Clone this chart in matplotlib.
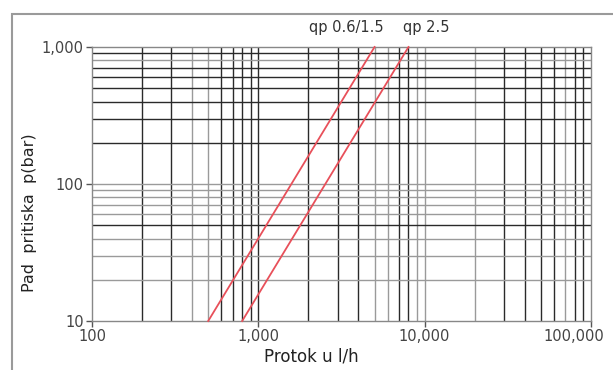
import matplotlib
matplotlib.use("Agg")
import matplotlib.pyplot as plt
from matplotlib.patches import Rectangle
from matplotlib.ticker import FixedLocator, FuncFormatter, NullLocator
from matplotlib.transforms import ScaledTranslation

# flow (l/h) and pressure drop (bar) at the ends of each meter curve
series_names = ["qp 0.6/1.5", "qp 2.5"]
flow_small = [500, 5000]
flow_large = [800, 8000]
dp_values = [10, 1000]

x_ticks = [100, 1000, 10000, 100000]
y_ticks = [10, 100, 1000]

DARK = "#2a2a2a"
LIGHT = "#9a9a9a"
# gridline shade for multipliers 1..9 inside each decade
x_shades = {
    100: [LIGHT, DARK, DARK, LIGHT, LIGHT, DARK, DARK, DARK, DARK],
    1000: [DARK, DARK, DARK, DARK, LIGHT, LIGHT, DARK, DARK, LIGHT],
    10000: [LIGHT, LIGHT, DARK, DARK, DARK, DARK, LIGHT, DARK, DARK],
}
y_shades = {
    10: [DARK, LIGHT, LIGHT, LIGHT, DARK, LIGHT, LIGHT, LIGHT, LIGHT],
    100: [LIGHT, DARK, DARK, DARK, DARK, DARK, DARK, LIGHT, DARK],
}

fig = plt.figure(figsize=(6.13, 3.70), dpi=100)
ax = fig.add_axes([0.150, 0.1324, 0.814, 0.7406])
ax.set_xscale("log")
ax.set_yscale("log")
ax.set_xlim(x_ticks[0], x_ticks[-1])
ax.set_ylim(y_ticks[0], y_ticks[-1])

for dec, shades in x_shades.items():
    for k, c in enumerate(shades, start=1):
        if k == 1 and dec == 100:
            continue
        ax.axvline(dec * k, color=c, lw=1.0, zorder=1)
for dec, shades in y_shades.items():
    for k, c in enumerate(shades, start=1):
        if k == 1 and dec == 10:
            continue
        ax.axhline(dec * k, color=c, lw=1.0, zorder=1)

ax.plot(flow_small, dp_values, color="#e8505a", lw=1.3, zorder=3, clip_on=False)
ax.plot(flow_large, dp_values, color="#e8505a", lw=1.3, zorder=3, clip_on=False)

ax.text(flow_small[-1] * 1.14, 1230, series_names[0], ha="right", va="bottom",
        fontsize=10.5, color="#333333")
ax.text(flow_large[-1] * 0.93, 1230, series_names[1], ha="left", va="bottom",
        fontsize=10.5, color="#333333")

fmt = FuncFormatter(lambda v, p: "{:,.0f}".format(v))
ax.xaxis.set_major_locator(FixedLocator(x_ticks))
ax.yaxis.set_major_locator(FixedLocator(y_ticks))
ax.xaxis.set_minor_locator(NullLocator())
ax.yaxis.set_minor_locator(NullLocator())
ax.xaxis.set_major_formatter(fmt)
ax.yaxis.set_major_formatter(fmt)
ax.tick_params(axis="both", which="major", length=4, width=1, color="#555555",
               labelsize=10.5, labelcolor="#444444", pad=2)

# last x label sits a little left so it stays inside the frame
fig.canvas.draw()
last = ax.get_xticklabels()[-1]
last.set_transform(last.get_transform() + ScaledTranslation(-0.17, 0, fig.dpi_scale_trans))

for s in ax.spines.values():
    s.set_color("#888888")
    s.set_linewidth(1.0)

ax.set_xlabel("Protok u l/h", fontsize=12, color="#222222")
ax.xaxis.set_label_coords(0.439, -0.095)
ax.set_ylabel("Pad  pritiska  p(bar)", fontsize=11.5, color="#222222")
ax.yaxis.set_label_coords(-0.11, 0.394)

# grey frame around the whole chart
fig.patches.append(Rectangle((12 / 613, -0.05), 1.0, 1 - 14 / 370 + 0.05,
                             transform=fig.transFigure, fill=False,
                             edgecolor="#9a9a9a", lw=1.5))

fig.savefig("out.png", dpi=100)
